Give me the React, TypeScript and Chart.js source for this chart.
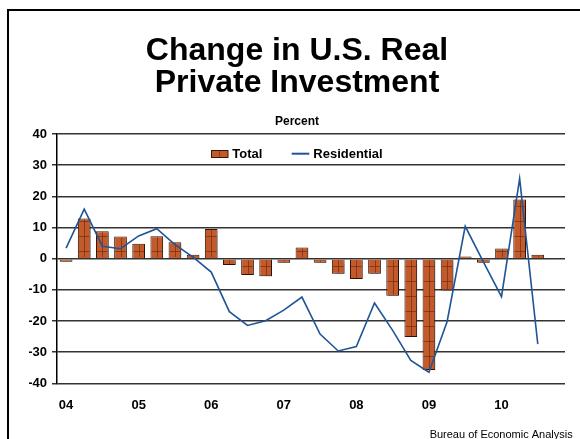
import React, { useEffect, useRef } from "react";
import { Chart, registerables } from "chart.js";

Chart.register(...registerables);

const years = ["04", "05", "06", "07", "08", "09", "10"];
const quarterNames = ["Q1", "Q2", "Q3", "Q4"];
const categories = years.flatMap((y) => quarterNames.map((q) => `${y} ${q}`));

const totalValues = [
  -1.0, 12.9, 8.8, 7.1, 4.8, 7.2, 5.3, 1.3, 9.5, -2.0, -5.2, -5.6, -1.3, 3.6,
  -1.3, -4.8, -6.5, -4.8, -11.9, -25.1, -35.7, -10.2, 0.7, -1.3, 3.3, 19.0, 1.3,
  null,
];
const residentialValues = [
  3.4, 15.9, 4.0, 3.2, 7.3, 9.6, 4.5, 0.5, -4.3, -17.0, -21.4, -19.9, -16.5,
  -12.3, -24.2, -29.6, -28.2, -14.2, -23.0, -32.6, -36.4, -20.2, 10.4, -1.0,
  -12.2, 25.7, -27.4, null,
];

const titleLines = ["Change in U.S. Real", "Private Investment"];
const subtitleText = "Percent";
const sourceText = "Bureau of Economic Analysis";

const FONT = '"Liberation Sans", Arial, Helvetica, sans-serif';
const BAR_FILL = "#C25A2C";
const BAR_BORDER = "#3a1606";
const BAR_STRIPE = "rgba(95,32,8,0.55)";
const LINE_COLOR = "#1F5596";
const GRID_COLOR = "#333333";

const barDecor = {
  id: "barDecor",
  beforeDatasetDraw(chart: any, args: any) {
    const ds = chart.data.datasets[args.index];
    if (ds.type === "line") return;
    const ctx = chart.ctx;
    ctx.save();
    ctx.shadowColor = "rgba(0,0,0,0.25)";
    ctx.shadowOffsetX = 2;
    ctx.shadowOffsetY = 2;
    ctx.shadowBlur = 1;
  },
  afterDatasetDraw(chart: any, args: any) {
    const ds = chart.data.datasets[args.index];
    if (ds.type === "line") return;
    const ctx = chart.ctx;
    ctx.restore();
    ctx.save();
    ctx.strokeStyle = BAR_STRIPE;
    ctx.lineWidth = 1;
    const meta = chart.getDatasetMeta(args.index);
    meta.data.forEach((el: any) => {
      const { x, y, base, width } = el.getProps(["x", "y", "base", "width"], true);
      if (y == null || isNaN(y)) return;
      const top = Math.min(y, base);
      const bottom = Math.max(y, base);
      if (bottom - top < 3) return;
      const left = x - width / 2;
      const right = x + width / 2;
      ctx.beginPath();
      ctx.moveTo(Math.round(x) + 0.5, top + 1);
      ctx.lineTo(Math.round(x) + 0.5, bottom - 1);
      const dir = y < base ? -1 : 1;
      for (let off = 6.6; off < bottom - top - 2; off += 15) {
        const yy = Math.round(base + dir * off) + 0.5;
        ctx.moveTo(left + 1, yy);
        ctx.lineTo(right - 1, yy);
      }
      ctx.stroke();
    });
    ctx.restore();
  },
};

const customLegend = {
  id: "customLegend",
  afterDraw(chart: any) {
    const ctx = chart.ctx;
    const dsTotal = chart.data.datasets.find((d: any) => d.type !== "line");
    const dsRes = chart.data.datasets.find((d: any) => d.type === "line");
    ctx.save();
    // Total swatch
    ctx.fillStyle = BAR_FILL;
    ctx.fillRect(211, 150, 17, 7.5);
    ctx.strokeStyle = BAR_BORDER;
    ctx.lineWidth = 1;
    ctx.strokeRect(211.5, 150.5, 16.5, 7);
    ctx.strokeStyle = BAR_STRIPE;
    ctx.beginPath();
    ctx.moveTo(219.5, 151);
    ctx.lineTo(219.5, 157);
    ctx.stroke();
    // Residential swatch
    ctx.strokeStyle = LINE_COLOR;
    ctx.lineWidth = 2;
    ctx.beginPath();
    ctx.moveTo(291.7, 153.7);
    ctx.lineTo(309.3, 153.7);
    ctx.stroke();
    ctx.fillStyle = "#000";
    ctx.font = `bold 13px ${FONT}`;
    ctx.textBaseline = "alphabetic";
    ctx.textAlign = "left";
    ctx.fillText(dsTotal.label, 232.3, 157.7);
    ctx.fillText(dsRes.label, 313.3, 157.7);
    // Source
    ctx.font = `11px ${FONT}`;
    ctx.textAlign = "right";
    ctx.fillText(sourceText, 572.7, 437.5);
    ctx.restore();
  },
};

export default function App() {
  const canvasRef = useRef<HTMLCanvasElement | null>(null);

  useEffect(() => {
    if (!canvasRef.current) return;
    const chart = new Chart(canvasRef.current, {
      type: "bar",
      data: {
        labels: categories,
        datasets: [
          {
            type: "line",
            label: "Residential",
            data: residentialValues,
            borderColor: LINE_COLOR,
            backgroundColor: LINE_COLOR,
            borderWidth: 1.6,
            pointRadius: 0,
            tension: 0,
            order: 0,
          } as any,
          {
            type: "bar",
            label: "Total",
            data: totalValues,
            backgroundColor: BAR_FILL,
            borderColor: BAR_BORDER,
            borderWidth: 1,
            barPercentage: 0.7,
            categoryPercentage: 1,
            order: 1,
          } as any,
        ],
      },
      options: {
        responsive: false,
        animation: false,
        devicePixelRatio: 1,
        layout: { padding: { top: 0, left: 29, right: 15, bottom: 12 } },
        plugins: {
          legend: { display: false },
          tooltip: { enabled: false },
          title: {
            display: true,
            text: titleLines,
            color: "#000",
            font: { family: FONT, size: 32, weight: "bold", lineHeight: 1.02 },
            padding: { top: 34.5, bottom: 0 },
          },
          subtitle: {
            display: true,
            text: subtitleText,
            color: "#000",
            font: { family: FONT, size: 12, weight: "bold", lineHeight: 1.2 },
            padding: { top: 14.3, bottom: 5.5 },
          },
        },
        scales: {
          x: {
            type: "category",
            offset: true,
            grid: { display: false, drawTicks: false },
            border: { display: false },
            ticks: {
              autoSkip: false,
              maxRotation: 0,
              minRotation: 0,
              padding: 14,
              color: "#000",
              font: { family: FONT, size: 13, weight: "bold" },
              callback: (_v: any, idx: number) =>
                idx % 4 === 0 ? years[idx / 4] : "",
            },
          },
          y: {
            min: -40,
            max: 40,
            afterFit: (scale: any) => {
              scale.width = 28;
            },
            ticks: {
              stepSize: 10,
              padding: 5,
              color: "#000",
              font: { family: FONT, size: 13, weight: "bold" },
            },
            grid: {
              color: GRID_COLOR,
              lineWidth: 1.5,
              drawTicks: true,
              tickLength: 5,
            },
            border: { display: true, color: "#000", width: 1.5 },
          },
        },
      },
      plugins: [barDecor, customLegend],
    });
    return () => chart.destroy();
  }, []);

  return (
    <div
      style={{
        position: "fixed",
        left: 0,
        top: 0,
        width: 580,
        height: 439,
        overflow: "hidden",
        background: "#fff",
      }}
    >
      <div
        style={{
          position: "absolute",
          left: 7,
          top: 9,
          width: 700,
          height: 600,
          borderTop: "2px solid #000",
          borderLeft: "2px solid #000",
          boxSizing: "border-box",
        }}
      />
      <canvas
        ref={canvasRef}
        width={580}
        height={439}
        style={{ position: "absolute", left: 0, top: 0, width: 580, height: 439 }}
      />
    </div>
  );
}
